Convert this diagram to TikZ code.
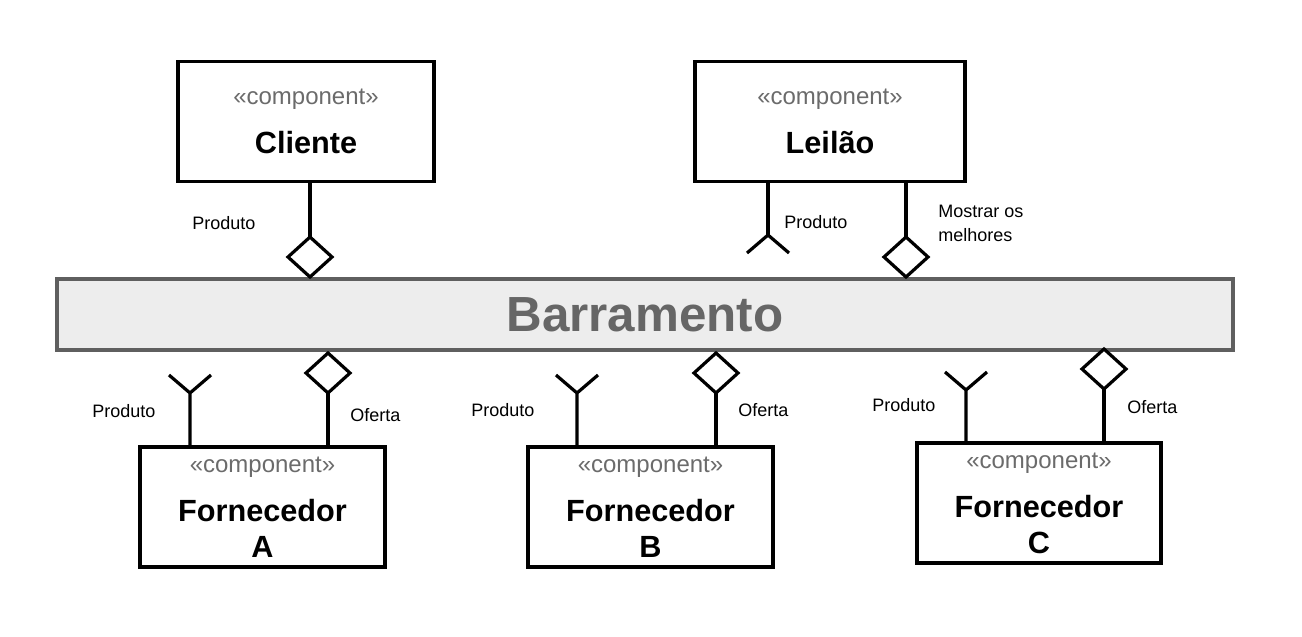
\documentclass[tikz,border=0pt]{standalone}
\usepackage{fontspec}
\setmainfont{Liberation Sans}
\usetikzlibrary{shapes.geometric}
\definecolor{stereogray}{HTML}{6B6B6B}
\definecolor{busfill}{HTML}{EDEDED}
\definecolor{busline}{HTML}{5F5F5F}
\definecolor{bustext}{HTML}{666666}
\begin{document}
\begin{tikzpicture}[x=0.75pt,y=-0.75pt,
  comp/.style={draw, line width=2.4pt, rectangle, inner sep=0pt, outer sep=0pt, minimum height=89.5pt},
  wire/.style={line width=2.4pt},
  prov/.style={draw, diamond, line width=2.4pt, inner sep=0pt, outer sep=0pt, minimum width=33pt, minimum height=30pt, fill=white},
  stereo/.style={text=stereogray, font=\fontsize{18}{20}\selectfont, anchor=base},
  cname/.style={font=\bfseries\fontsize{23}{27}\selectfont, anchor=base},
  lbl/.style={font=\fontsize{13.5}{18}\selectfont, align=left, anchor=base west, inner sep=0pt},
]
\useasboundingbox (0,0) rectangle (1302,636);

% bus
\node[draw=busline, fill=busfill, line width=2.4pt, minimum width=882pt, minimum height=53.25pt, inner sep=0pt,
      text=bustext, font=\bfseries\fontsize{37}{40}\selectfont] (bus) at (645,314.5) {Barramento};

% top components
\node[comp, minimum width=192pt] (cli) at (306,121.5) {};
\node[stereo] (clis) at (306,104) {«component»};
\node[cname] (clin) at (306,153) {Cliente};

\node[comp, minimum width=202.5pt] (lei) at (830,121.5) {};
\node[stereo] (leis) at (830,104) {«component»};
\node[cname] (lein) at (830,153) {Leilão};

% bottom components
\node[comp, minimum width=183.75pt, minimum height=90pt] (fa) at (262.5,507) {};
\node[stereo] (fas) at (262.5,472) {«component»};
\node[cname] (fan) at (262.5,521) {Fornecedor};
\node[cname] (fal) at (262.5,557) {A};

\node[comp, minimum width=183.75pt, minimum height=90pt] (fb) at (650.5,507) {};
\node[stereo] (fbs) at (650.5,472) {«component»};
\node[cname] (fbn) at (650.5,521) {Fornecedor};
\node[cname] (fbl) at (650.5,557) {B};

\node[comp, minimum width=183pt, minimum height=90pt] (fc) at (1039,503) {};
\node[stereo] (fcs) at (1039,468) {«component»};
\node[cname] (fcn) at (1039,517) {Fornecedor};
\node[cname] (fcl) at (1039,553) {C};

% Cliente provided interface
\node[prov] (cliP) at (310,257) {};
\draw[wire] (cli.south -| cliP) -- (cliP.north);
\node[lbl] (cliPl) at (192,229) {Produto};

% Leilão required interface
\coordinate (leiR) at (768,235);
\draw[wire] (lei.south -| leiR) -- (leiR);
\draw[wire] (leiR) -- ++(-21,18) (leiR) -- ++(21,18);
\node[lbl] (leiRl) at (784,228) {Produto};

% Leilão provided interface
\node[prov] (leiP) at (906,257) {};
\draw[wire] (lei.south -| leiP) -- (leiP.north);
\node[lbl] (leiPl) at (938,241) {Mostrar os\\melhores};

% Fornecedor A
\coordinate (faR) at (190,393);
\draw[wire] (fa.north -| faR) -- (faR) -- ++(-21,-18) (faR) -- ++(21,-18);
\node[lbl] (faRl) at (92,417) {Produto};
\node[prov] (faP) at (328,373) {};
\draw[wire] (faP.south) -- (fa.north -| faP);
\node[lbl] (faPl) at (350,421) {Oferta};

% Fornecedor B
\coordinate (fbR) at (577,393);
\draw[wire] (fb.north -| fbR) -- (fbR) -- ++(-21,-18) (fbR) -- ++(21,-18);
\node[lbl] (fbRl) at (471,416) {Produto};
\node[prov] (fbP) at (716,373) {};
\draw[wire] (fbP.south) -- (fb.north -| fbP);
\node[lbl] (fbPl) at (738,416) {Oferta};

% Fornecedor C
\coordinate (fcR) at (966,390);
\draw[wire] (fc.north -| fcR) -- (fcR) -- ++(-21,-18) (fcR) -- ++(21,-18);
\node[lbl] (fcRl) at (872,411) {Produto};
\node[prov] (fcP) at (1104,369) {};
\draw[wire] (fcP.south) -- (fc.north -| fcP);
\node[lbl] (fcPl) at (1127,413) {Oferta};
\end{tikzpicture}
\end{document}
